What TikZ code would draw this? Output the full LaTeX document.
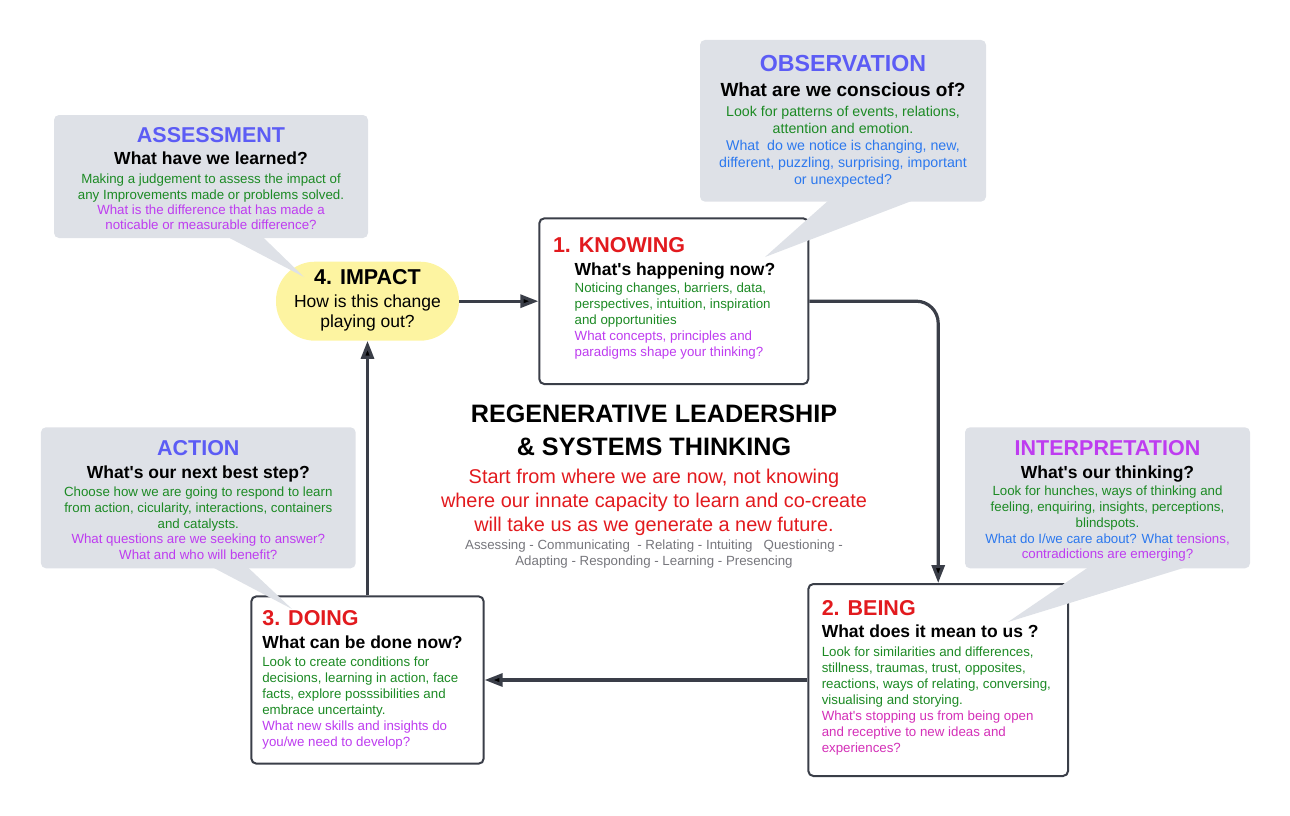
\documentclass[tikz,border=0pt]{standalone}
\usepackage{fontspec}
\setmainfont{Liberation Sans}[Ligatures=TeXOff]
\usepackage{xcolor}
\usepackage{tikz}
\usetikzlibrary{arrows,arrows.meta}
\usetikzlibrary{positioning}
\definecolor{boxline}{RGB}{58,62,72}
\definecolor{calloutgray}{RGB}{222,225,231}
\definecolor{pillyellow}{RGB}{253,244,161}
\definecolor{headblue}{RGB}{92,92,245}
\definecolor{leafgreen}{RGB}{28,138,36}
\definecolor{askpurple}{RGB}{190,60,240}
\definecolor{askpink}{RGB}{212,48,184}
\definecolor{skyblue}{RGB}{44,120,238}
\definecolor{stepred}{RGB}{226,26,30}
\definecolor{softgray}{RGB}{118,118,124}
\newcommand{\gr}{\color{leafgreen}}
\newcommand{\pu}{\color{askpurple}}
\newcommand{\pk}{\color{askpink}}
\newcommand{\bl}{\color{skyblue}}
\begin{document}
\begin{tikzpicture}[-,>={Triangle[length=18pt,width=13pt]},x=1pt,y=-1pt,node distance=10pt]
	\tikzstyle{stage}=[rectangle, draw=boxline, line width=2pt, rounded corners=5pt, fill=white]
	\tikzstyle{callout}=[rectangle, fill=calloutgray, rounded corners=5pt]
	\tikzstyle{txt}=[inner sep=0pt, outer sep=0pt]
	\tikzstyle{bighead}=[txt, font=\bfseries\fontsize{21.5}{24}\selectfont]
	\tikzstyle{ask}=[txt, font=\bfseries\fontsize{17.5}{20}\selectfont]
	\tikzstyle{note}=[txt, align=left, font=\fontsize{13.3}{16}\selectfont]
	\tikzstyle{cnote}=[txt, align=center, font=\fontsize{13.3}{15.8}\selectfont]
	\tikzstyle{flow}=[->, draw=boxline, line width=3.2pt]
	\useasboundingbox (0,0) rectangle (1290,816);
		\node[stage, minimum width=269pt, minimum height=165.7pt] (K) at (673.8,301.2) {};
		\node[stage, minimum width=259.7pt, minimum height=192pt] (B) at (938.2,680) {};
		\node[stage, minimum width=232.3pt, minimum height=167.3pt] (D) at (367.5,680) {};
		\node[rectangle, fill=pillyellow, rounded corners=39pt, minimum width=183pt, minimum height=79pt] (I) at (367.5,301.2) {};
		\path[flow]
			(I) edge (K)
			(K) edge[rounded corners=22pt, to path={-| (\tikztotarget)}] (B)
			(B) edge (D)
			(D) edge (I);
		\node[callout, minimum width=314pt, minimum height=123pt] (A) at (211,176.5) {};
		\node[callout, minimum width=286pt, minimum height=161.7pt] (O) at (843,120.8) {};
		\node[callout, minimum width=285pt, minimum height=141pt] (P) at (1107.5,497.8) {};
		\node[callout, minimum width=314.7pt, minimum height=141pt] (C) at (198.3,497.8) {};
		\coordinate (At) at (304,277);
		\coordinate (Ot) at (765,257);
		\coordinate (Pt) at (1008,622);
		\coordinate (Ct) at (292,609);
		\fill[calloutgray] ([xshift=17pt,yshift=1pt]A.south) -- ([xshift=52pt,yshift=1pt]A.south) -- (At) -- cycle;
		\fill[calloutgray] ([xshift=-15pt,yshift=1pt]O.south) -- ([xshift=69pt,yshift=1pt]O.south) -- (Ot) -- cycle;
		\fill[calloutgray] ([xshift=-19.5pt,yshift=1pt]P.south) -- ([xshift=77.5pt,yshift=1pt]P.south) -- (Pt) -- cycle;
		\fill[calloutgray] ([xshift=14.7pt,yshift=1pt]C.south) -- ([xshift=49.7pt,yshift=1pt]C.south) -- (Ct) -- cycle;

		\node[bighead, text=stepred] (K1) [below right=20pt and 14.7pt of K.north west] {1. KNOWING};
		\node[ask] (K2) [below right=45.7pt and 36.4pt of K.north west] {What's happening now?};
		\node[note] (K3) [below right=66pt and 36.4pt of K.north west] {\gr Noticing changes, barriers, data,\\\gr perspectives, intuition, inspiration\\\gr and opportunities\\\pu What concepts, principles and\\\pu paradigms shape your thinking?};

		\node[bighead, text=stepred] (B1) [below right=17.6pt and 14.4pt of B.north west] {2. BEING};
		\node[ask] (B2) [below right=42.2pt and 14.4pt of B.north west] {What does it mean to us ?};
		\node[note] (B3) [below right=63.6pt and 14.4pt of B.north west] {\gr Look for similarities and differences,\\\gr stillness, traumas, trust, opposites,\\\gr reactions, ways of relating, conversing,\\\gr visualising and storying.\\\pk What's stopping us from being open\\\pk and receptive to new ideas and\\\pk experiences?};

		\node[bighead, text=stepred] (D1) [below right=15.6pt and 12pt of D.north west] {3. DOING};
		\node[ask] (D2) [below right=40.9pt and 12pt of D.north west] {What can be done now?};
		\node[note] (D3) [below right=61.3pt and 12pt of D.north west] {\gr Look to create conditions for\\\gr decisions, learning in action, face\\\gr facts, explore posssibilities and\\\gr embrace uncertainty.\\\pu What new skills and insights do\\\pu you/we need to develop?};

		\node[bighead] (I1) [below=7.9pt of I.north] {4. IMPACT};
		\node[txt, align=center, font=\fontsize{17.5}{20}\selectfont] (I2) [below=33.8pt of I.north] {How is this change\\playing out?};

		\node[bighead, text=headblue] (A1) [below=12.3pt of A.north] {ASSESSMENT};
		\node[ask] (A2) [below=37.2pt of A.north] {What have we learned?};
		\node[cnote, font=\fontsize{13.3}{15.4}\selectfont] (A3) [below=59.3pt of A.north] {\gr Making a judgement to assess the impact of\\\gr any Improvements made or problems solved.\\\pu What is the difference that has made a\\\pu noticable or measurable difference?};

		\node[bighead, font=\bfseries\fontsize{23.2}{26}\selectfont, text=headblue] (O1) [below=15.1pt of O.north] {OBSERVATION};
		\node[ask, font=\bfseries\fontsize{19}{22}\selectfont] (O2) [below=42.8pt of O.north] {What are we conscious of?};
		\node[cnote, font=\fontsize{14.2}{17}\selectfont] (O3) [below=66.3pt of O.north] {\gr Look for patterns of events, relations,\\\gr attention and emotion.\\\bl What~ do we notice is changing, new,\\\bl different, puzzling, surprising, important\\\bl or unexpected?};

		\node[bighead, text=askpurple] (P1) [below=13.3pt of P.north] {INTERPRETATION};
		\node[ask] (P2) [below=39.2pt of P.north] {What's our thinking?};
		\node[cnote] (P3) [below=59pt of P.north] {\gr Look for hunches, ways of thinking and\\\gr feeling, enquiring, insights, perceptions,\\\gr blindspots.\\\bl What do I/we care about? What \pu tensions,\\\pu contradictions are emerging?};

		\node[bighead, text=headblue] (C1) [below=13.3pt of C.north] {ACTION};
		\node[ask] (C2) [below=39.2pt of C.north] {What's our next best step?};
		\node[cnote] (C3) [below=59.7pt of C.north] {\gr Choose how we are going to respond to learn\\\gr from action, cicularity, interactions, containers\\\gr and catalysts.\\\pu What questions are we seeking to answer?\\\pu What and who will benefit?};

		\node[txt, anchor=north, align=center, font=\bfseries\fontsize{25.2}{32.7}\selectfont] (T) at (654,405.3) {REGENERATIVE LEADERSHIP\\\& SYSTEMS THINKING};
		\node[txt, align=center, text=stepred, font=\fontsize{19.9}{24.2}\selectfont] (R) [below=63.5pt of T.north] {Start from where we are now, not knowing\\where our innate capacity to learn and co-create\\will take us as we generate a new future.};
		\node[cnote, text=softgray] (G) [below=135pt of T.north] {Assessing - Communicating~ - Relating - Intuiting~~ Questioning -\\Adapting - Responding - Learning - Presencing};
\end{tikzpicture}
\end{document}
